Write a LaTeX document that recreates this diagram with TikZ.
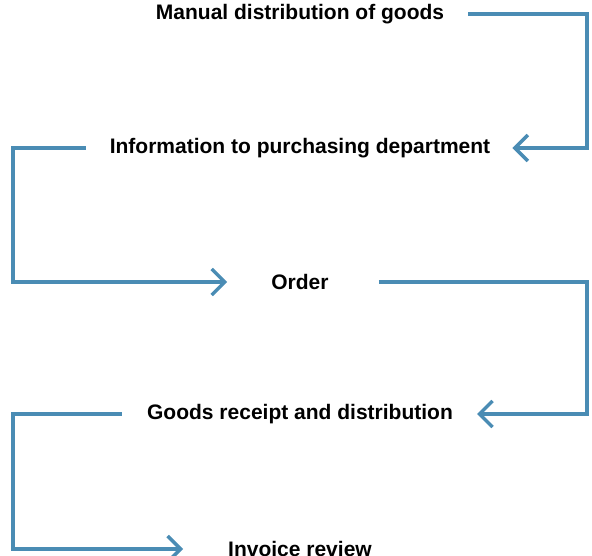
\documentclass[tikz,border=0pt]{standalone}
\usepackage{fontspec}
\setmainfont{Liberation Sans}
\usetikzlibrary{arrows.meta,
                positioning
            }
\definecolor{flowblue}{RGB}{74,140,180}

\begin{document}
\begin{tikzpicture}[x=1pt, y=-1pt,
        stage/.style={font=\bfseries\fontsize{21}{25}\selectfont, inner sep=0pt},
        flow/.style={draw=flowblue, line width=3.5pt, -{Straight Barb[length=13pt, width=26pt]}}
    ]
            \useasboundingbox (0, 0) rectangle (592, 556);
            \coordinate (railL) at (13, 0);
            \coordinate (railR) at (587, 0);
            \node[stage] (manual) at (300, 14) {Manual distribution of goods};
            \node[stage] (info) at (300, 148) {Information to purchasing department};
            \node[stage] (order) at (300, 282) {Order};
            \node[stage] (receipt) at (300, 414) {Goods receipt and distribution};
            \node[stage] (invoice) at (300, 549) {Invoice review};
            \draw[flow] ([xshift=24pt]manual.east) -- (manual -| railR) -- (info -| railR) -- ([xshift=22pt]info.east);
            \draw[flow] ([xshift=-24pt]info.west) -- (info -| railL) -- (order -| railL) -- ([xshift=-44pt]order.west);
            \draw[flow] ([xshift=50pt]order.east) -- (order -| railR) -- (receipt -| railR) -- ([xshift=24pt]receipt.east);
            \draw[flow] ([xshift=-25pt]receipt.west) -- (receipt -| railL) -- (invoice -| railL) -- ([xshift=-45pt]invoice.west);
        \end{tikzpicture}
\end{document}
